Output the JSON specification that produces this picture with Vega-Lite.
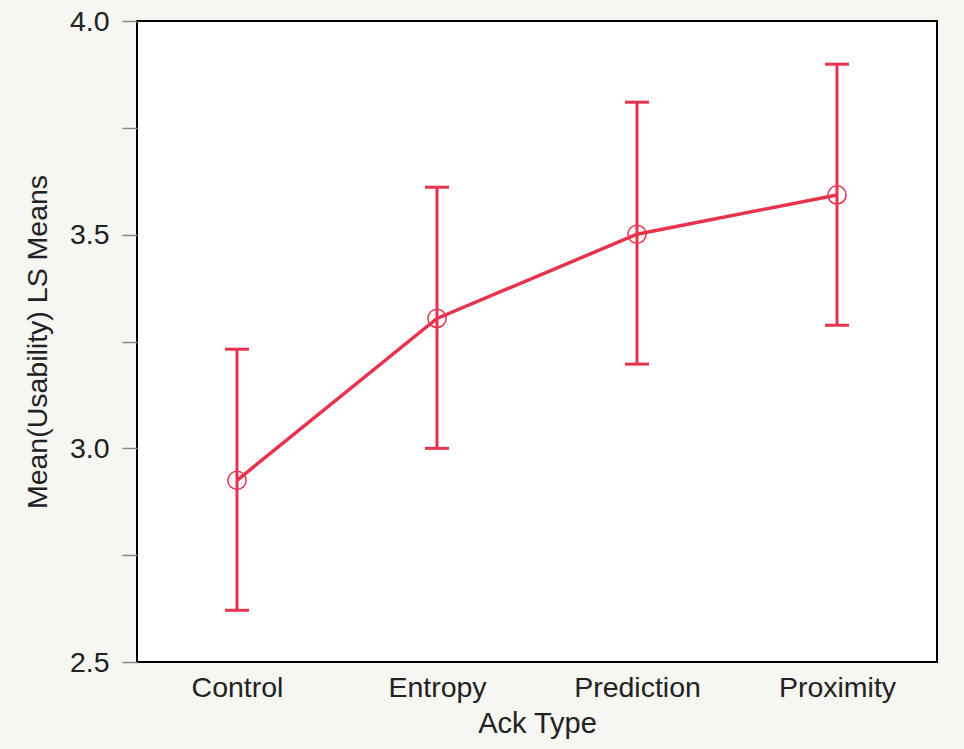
{
  "$schema": "https://vega.github.io/schema/vega-lite/v6.json",
  "width": 800,
  "height": 641,
  "autosize": "none",
  "padding": {"left": 137, "top": 21, "right": 27, "bottom": 87},
  "background": "#f6f6f2",
  "config": {
    "font": "Liberation Sans",
    "view": {"stroke": "#000000", "strokeWidth": 2, "fill": "#ffffff"},
    "axis": {"labelFont": "Liberation Sans", "titleFont": "Liberation Sans", "labelColor": "#222222", "titleColor": "#222222", "titleFontWeight": "normal", "grid": false, "domain": false}
  },
  "data": {
    "values": [
      {"type": "Control", "mean": 2.925, "lower": 2.621, "upper": 3.232},
      {"type": "Entropy", "mean": 3.304, "lower": 3.0, "upper": 3.611},
      {"type": "Prediction", "mean": 3.501, "lower": 3.197, "upper": 3.81},
      {"type": "Proximity", "mean": 3.593, "lower": 3.288, "upper": 3.899}
    ]
  },
  "encoding": {
    "x": {
      "field": "type", "type": "nominal", "sort": null,
      "scale": {"type": "point", "padding": 0.5},
      "axis": {"title": "Ack Type", "labelAngle": 0, "labelFontSize": 28.5, "titleFontSize": 29, "ticks": false, "labelPadding": 11, "titlePadding": 8}
    }
  },
  "layer": [
    {
      "mark": {"type": "rule", "color": "#e8334f", "strokeWidth": 3},
      "encoding": {
        "y": {
          "field": "lower", "type": "quantitative",
          "scale": {"domain": [2.5, 4.0], "nice": false, "zero": false},
          "axis": {
            "title": "Mean(Usability) LS Means",
            "values": [2.5, 2.75, 3.0, 3.25, 3.5, 3.75, 4.0],
            "labelExpr": "(datum.value * 2) % 1 == 0 ? format(datum.value, '.1f') : ''",
            "labelFontSize": 28.5, "titleFontSize": 28.5,
            "tickSize": 15, "tickColor": "#888888", "tickWidth": 1.5,
            "labelPadding": 13, "titlePadding": 17,
            "encode": {"ticks": {"update": {"x2": {"signal": "(datum.value * 2) % 1 == 0 ? -15 : -9"}}}}
          }
        },
        "y2": {"field": "upper"}
      }
    },
    {
      "mark": {"type": "tick", "color": "#e8334f", "thickness": 3, "size": 24, "opacity": 1},
      "encoding": {"y": {"field": "lower", "type": "quantitative"}}
    },
    {
      "mark": {"type": "tick", "color": "#e8334f", "thickness": 3, "size": 24, "opacity": 1},
      "encoding": {"y": {"field": "upper", "type": "quantitative"}}
    },
    {
      "mark": {"type": "line", "color": "#e8334f", "strokeWidth": 3.5},
      "encoding": {"y": {"field": "mean", "type": "quantitative"}}
    },
    {
      "mark": {"type": "point", "shape": "circle", "filled": false, "color": "#e8334f", "size": 330, "strokeWidth": 1.5, "opacity": 1},
      "encoding": {"y": {"field": "mean", "type": "quantitative"}}
    }
  ]
}
